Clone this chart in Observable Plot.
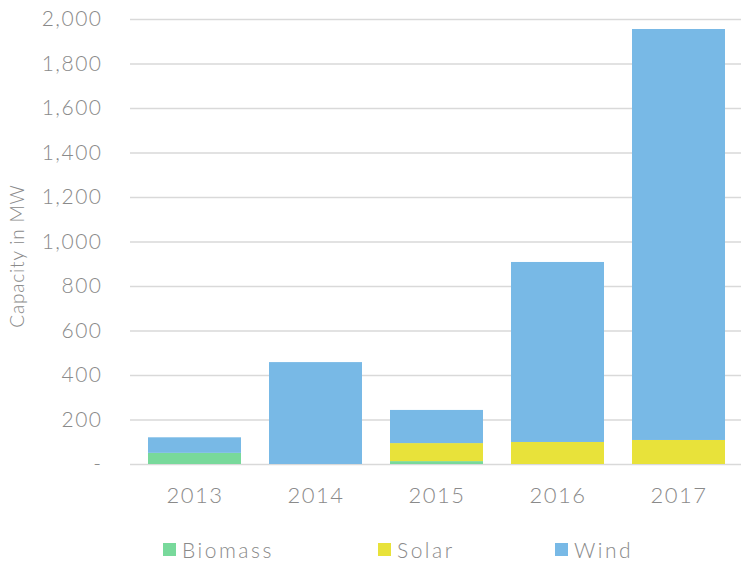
<!DOCTYPE html>
<html>
<head>
<meta charset="utf-8">
<script src="https://cdn.jsdelivr.net/npm/d3@7"></script>
<script src="https://cdn.jsdelivr.net/npm/@observablehq/plot@0.6"></script>
<style>
  body { margin: 0; background: #fff; font-family: Lato, "Open Sans", sans-serif; overflow: hidden; }
  #chart { position: relative; width: 741px; overflow: hidden; }
  #chart svg { max-width: none !important; }
  .legend { position: relative; height: 43px; width: 741px; }
  .legend .item { position: absolute; top: 17px; display: flex; align-items: center; font-size: 21px; color: #8a8a8a; font-weight: 300; letter-spacing: 2.5px; }
  .legend .sw { width: 13px; height: 13px; margin-right: 6px; }
</style>
</head>
<body>
<div id="chart"></div>
<div class="legend" id="legend"></div>
<script>
const years = ["2013", "2014", "2015", "2016", "2017"];
const series = ["Biomass", "Solar", "Wind"];
const biomass = [50, 0, 13, 0, 0];
const solar = [0, 0, 81, 99, 108];
const wind = [70, 458, 149, 809, 1847];
const colors = ["#78d99b", "#e8e23a", "#78b9e6"];
const yTicks = [0, 200, 400, 600, 800, 1000, 1200, 1400, 1600, 1800, 2000];
const yLabel = "Capacity in MW";

const valuesBySeries = [biomass, solar, wind];
const data = [];
series.forEach((s, si) => years.forEach((y, yi) => data.push({year: y, series: s, value: valuesBySeries[si][yi]})));

const fmt = d3.format(",");
const chart = Plot.plot({
  width: 744,
  height: 520,
  marginLeft: 130,
  marginRight: 0,
  marginTop: 19,
  marginBottom: 56,
  style: {fontFamily: "Lato, 'Open Sans', sans-serif", fontWeight: 300, color: "#8a8a8a", background: "#fff"},
  x: {domain: years, paddingInner: 0.23, paddingOuter: 0.139},
  y: {domain: [0, 2000]},
  color: {domain: series, range: colors},
  marks: [
    Plot.gridY(yTicks, {stroke: "#d9d9d9", strokeOpacity: 1, strokeWidth: 1.5}),
    Plot.barY(data, {x: "year", y: "value", fill: "series", order: series}),
    Plot.axisY(yTicks, {
      tickSize: 0, tickPadding: 28, fontSize: 21,
      tickFormat: d => d === 0 ? "-" : fmt(d),
      label: yLabel, labelAnchor: "center", labelArrow: "none", labelOffset: 120
    }),
    Plot.axisX({tickSize: 0, tickPadding: 23, fontSize: 22, label: null})
  ]
});
chart.style.maxWidth = "none";
document.getElementById("chart").appendChild(chart);
const svg = d3.select(chart);
svg.selectAll("g[aria-label='y-axis tick label'] text, g[aria-label='x-axis tick label'] text").style("letter-spacing", "1.5px");
svg.selectAll("g[aria-label='y-axis label'] text").attr("font-size", 19).style("letter-spacing", "0.8px");
svg.selectAll("g[aria-label='y-axis label']").attr("transform", function() {
  const t = d3.select(this).attr("transform") || "";
  return t + " translate(0,14)";
});

const legend = document.getElementById("legend");
const legendX = [163, 378, 555];
series.forEach((s, i) => {
  const it = document.createElement("div");
  it.className = "item";
  it.style.left = legendX[i] + "px";
  it.innerHTML = `<span class="sw" style="background:${colors[i]}"></span>${s}`;
  legend.appendChild(it);
});
</script>
</body>
</html>
